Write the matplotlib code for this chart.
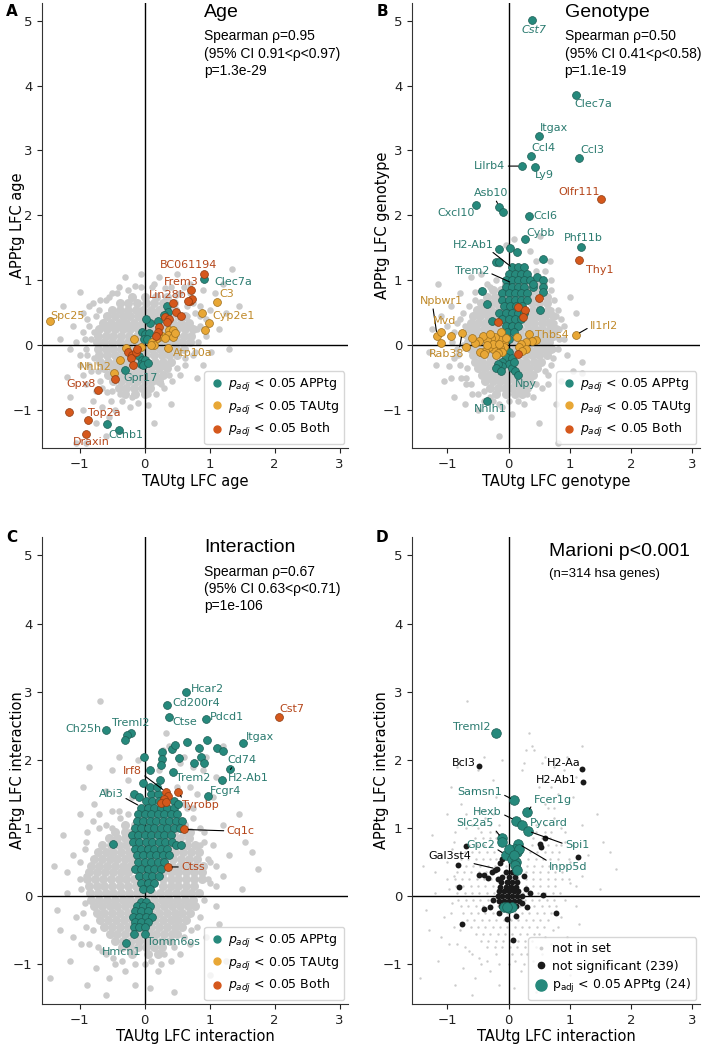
import matplotlib.pyplot as plt
from matplotlib.lines import Line2D

# colours
teal = '#26897c'
gold = '#e8a735'
red = '#d5581c'
teal_txt = '#2b7b70'
gold_txt = '#c08a2a'
red_txt = '#b5461a'
grey = '#cbcbcb'

# ---------------- panel A (age) ----------------
grey_a_rows = [
    (0.75, [-0.2, 0.0, 0.18, 0.35]),
    (0.65, [-0.38, -0.25, -0.12, 0.02, 0.15, 0.28, 0.45]),
    (0.55, [-0.5, -0.38, -0.26, -0.14, -0.02, 0.1, 0.22, 0.34, 0.46]),
    (0.45, [-0.58, -0.46, -0.34, -0.22, -0.1, 0.02, 0.14, 0.26, 0.38, 0.52, 0.62]),
    (0.35, [-0.64, -0.52, -0.4, -0.28, -0.16, -0.04, 0.08, 0.2, 0.32, 0.44, 0.56, 0.68]),
    (0.25, [-0.7, -0.58, -0.46, -0.34, -0.22, -0.1, 0.02, 0.14, 0.26, 0.38, 0.5, 0.62, 0.74]),
    (0.15, [-0.72, -0.6, -0.48, -0.36, -0.24, -0.12, 0.0, 0.12, 0.24, 0.36, 0.48, 0.6, 0.72]),
    (0.05, [-0.74, -0.62, -0.5, -0.38, -0.26, -0.14, -0.02, 0.1, 0.22, 0.34, 0.46, 0.58, 0.7]),
    (-0.05, [-0.72, -0.6, -0.48, -0.36, -0.24, -0.12, 0.0, 0.12, 0.24, 0.36, 0.48, 0.6]),
    (-0.15, [-0.7, -0.58, -0.46, -0.34, -0.22, -0.1, 0.02, 0.14, 0.26, 0.38, 0.5]),
    (-0.25, [-0.68, -0.56, -0.44, -0.32, -0.2, -0.08, 0.04, 0.16, 0.28, 0.4]),
    (-0.35, [-0.62, -0.5, -0.38, -0.26, -0.14, -0.02, 0.1, 0.22, 0.34]),
    (-0.45, [-0.56, -0.44, -0.32, -0.2, -0.08, 0.04, 0.16, 0.28]),
    (-0.55, [-0.48, -0.36, -0.24, -0.12, 0.0, 0.12, 0.22]),
    (-0.65, [-0.4, -0.28, -0.16, -0.04, 0.08]),
    (-0.75, [-0.3, -0.15, 0.0]),
]
grey_a_fringe = [
    (-1.3, 0.1), (-1.2, -0.48), (-1.15, -0.05), (-1.1, 0.3), (-1.0, 0.82), (-1.0, -0.3),
    (-0.95, 0.5), (-0.92, 0.1), (-0.9, -0.6), (-0.88, -0.15), (-0.85, 0.3), (-0.82, -0.4),
    (-0.8, 0.65), (-0.8, -0.85), (-0.7, 0.55), (-0.68, -0.55), (-0.65, -0.95), (-0.6, 0.7),
    (-0.58, -0.72), (-0.52, -0.85), (-0.5, 0.8), (-0.45, -1.0), (-0.4, 0.9), (-0.35, -0.85),
    (-0.3, 1.05), (-0.22, -0.95), (-0.15, 0.92), (-0.1, -0.88), (-0.05, 1.1), (0.05, -0.92),
    (0.12, 0.9), (0.18, -0.75), (0.22, 1.05), (0.3, -0.65), (0.32, 0.88), (0.42, -0.55),
    (0.48, 0.78), (0.55, -0.45), (0.6, 0.9), (0.62, -0.3), (0.7, 0.8), (0.75, -0.15),
    (0.78, 0.5), (0.82, 0.05), (0.85, 0.3), (0.9, -0.3), (0.95, 0.15), (1.0, 0.55),
    (1.02, -0.1), (1.08, 0.8), (1.15, 0.25), (1.2, 0.95), (1.25, 0.5), (1.35, 1.18),
    (1.3, -0.05), (0.5, 1.1), (-1.05, -1.5), (-0.95, -1.0), (-0.75, -1.2), (-0.6, -1.4),
    (-0.55, -1.1), (-1.15, -0.8), (0.15, -1.2), (0.4, -0.9), (0.8, -0.5), (1.45, 0.6),
    (-1.25, 0.6), (-0.9, -1.5), (0.65, 0.6), (0.85, 0.6), (-0.7, -0.05), (-0.78, 0.2),
    (-0.95, 0.2), (-0.9, -0.05), (-0.88, 0.4), (-0.85, -0.3), (-0.82, 0.1), (-0.78, -0.2),
    (-0.75, 0.45), (-0.72, -0.4), (-0.68, 0.7), (-0.65, -0.65), (-0.55, 0.75), (-0.5, -0.7),
    (-0.42, 0.8), (-0.38, -0.75), (-0.25, 0.85), (-0.2, -0.8), (-0.05, 0.9), (0.05, -0.75),
    (0.15, 0.95), (0.25, -0.6), (0.4, 0.9), (0.38, -0.45), (0.55, 0.8), (0.5, -0.35),
    (0.65, 0.45), (0.62, -0.2), (0.75, 0.65), (0.72, 0.05), (0.8, 0.25), (0.85, 0.45),
    (0.9, 0.85), (0.95, 0.4), (0.78, -0.1), (0.7, 0.95), (-0.6, 0.45), (-0.85, 0.6),
    (-1.05, 0.05), (-1.0, -0.15), (-0.95, -0.45), (-0.75, -0.7),
]
teal_a = [
    (0.91, 1.02), (0.35, 0.60), (0.36, 0.51), (0.30, 0.47), (0.21, 0.38), (0.09, 0.35),
    (0.02, 0.41), (-0.04, 0.20), (0.0, 0.18), (0.07, 0.19), (-0.01, 0.10), (0.04, 0.10),
    (-0.09, -0.17), (-0.04, -0.23), (-0.01, -0.29), (-0.06, -0.28), (0.0, -0.22),
    (-0.30, -0.38), (-0.58, -1.21), (-0.39, -1.30), (-0.03, -0.30), (0.05, -0.27),
]
gold_a = [
    (1.11, 0.67), (0.89, 0.50), (0.99, 0.35), (0.93, 0.24), (-1.46, 0.37), (0.37, 0.23),
    (0.44, 0.23), (0.36, 0.16), (0.27, 0.14), (0.22, 0.13), (0.17, 0.10), (0.12, 0.05),
    (0.15, 0.0), (0.44, 0.13), (0.31, 0.12), (-0.16, 0.10), (-0.28, -0.04), (-0.05, -0.03),
    (-0.38, -0.22), (-0.47, -0.43), (0.36, -0.04), (0.10, 0.0), (0.47, 0.19),
]
red_a = [
    (0.91, 1.10), (0.71, 0.86), (0.70, 0.69), (0.73, 0.72), (0.67, 0.68), (0.43, 0.65),
    (0.49, 0.52), (0.56, 0.46), (0.32, 0.44), (0.38, 0.41), (0.34, 0.36), (0.22, 0.29),
    (0.21, 0.21), (0.17, 0.15), (-0.25, -0.10), (-0.19, -0.15), (-0.21, -0.20),
    (-0.18, -0.30), (-0.14, -0.10), (-0.11, -0.05), (-0.45, -0.51), (-0.72, -0.68),
    (-1.16, -1.02), (-0.87, -1.15), (-0.90, -1.36),
]

# ---------------- panel B (genotype) ----------------
grey_b_rows = [
    (0.95, [-0.05, 0.35, 0.5]),
    (0.85, [-0.25, -0.12, 0.3, 0.42, 0.55]),
    (0.75, [-0.35, -0.22, -0.1, 0.35, 0.48, 0.62]),
    (0.65, [-0.45, -0.32, -0.2, -0.08, 0.38, 0.5, 0.62]),
    (0.55, [-0.52, -0.4, -0.28, -0.16, -0.04, 0.4, 0.52, 0.64]),
    (0.45, [-0.58, -0.46, -0.34, -0.22, -0.1, 0.02, 0.36, 0.48, 0.6, 0.72]),
    (0.35, [-0.62, -0.5, -0.38, -0.26, -0.14, -0.02, 0.3, 0.42, 0.54, 0.66]),
    (0.25, [-0.65, -0.53, -0.41, -0.29, -0.17, -0.05, 0.07, 0.19, 0.31, 0.43, 0.55, 0.67, 0.78]),
    (0.15, [-0.6, -0.48, -0.36, -0.24, -0.12, 0.0, 0.12, 0.24, 0.36, 0.48, 0.6, 0.72]),
    (0.05, [-0.66, -0.54, -0.42, -0.3, -0.18, -0.06, 0.06, 0.18, 0.3, 0.42, 0.54, 0.66]),
    (-0.05, [-0.62, -0.5, -0.38, -0.26, -0.14, -0.02, 0.1, 0.22, 0.34, 0.46, 0.58, 0.7]),
    (-0.15, [-0.58, -0.46, -0.34, -0.22, -0.1, 0.02, 0.14, 0.26, 0.38, 0.5, 0.62]),
    (-0.25, [-0.55, -0.43, -0.31, -0.19, -0.07, 0.05, 0.17, 0.29, 0.41, 0.53]),
    (-0.35, [-0.5, -0.38, -0.26, -0.14, -0.02, 0.1, 0.22, 0.34, 0.46]),
    (-0.45, [-0.44, -0.32, -0.2, -0.08, 0.04, 0.16, 0.28, 0.4]),
    (-0.55, [-0.38, -0.26, -0.14, -0.02, 0.1, 0.22, 0.34]),
    (-0.65, [-0.3, -0.18, -0.06, 0.06, 0.18, 0.3]),
    (-0.75, [-0.2, -0.05, 0.1, 0.22]),
]
grey_b_fringe = [
    (-1.3, -0.1), (-1.25, 0.25), (-1.18, -0.3), (-1.1, 0.45), (-1.05, -0.55), (-0.98, -0.32),
    (-0.95, 0.6), (-0.92, 0.05), (-0.9, -0.8), (-0.85, 0.35), (-0.82, -0.15), (-0.8, 0.8),
    (-0.78, -0.5), (-0.75, 0.5), (-0.72, -0.9), (-0.7, 0.15), (-0.68, -0.35), (-0.62, 1.05),
    (-0.6, -0.75), (-0.55, 0.82), (-0.5, -1.0), (-0.45, 1.1), (-0.4, -0.85), (-0.35, 0.95),
    (-0.28, -1.1), (-0.15, 1.25), (-0.1, -0.95), (-0.05, 1.55), (0.05, -1.05), (0.08, 1.63),
    (0.25, -0.9), (0.52, 1.68), (0.4, -0.8), (0.45, 1.15), (0.55, -0.65), (0.58, 0.95),
    (0.65, -0.45), (0.7, 0.85), (0.72, -0.2), (0.8, 0.55), (0.82, 0.1), (0.85, -0.55),
    (0.9, 0.3), (0.95, -0.15), (1.0, 0.75), (1.05, -0.4), (1.1, 0.5), (1.2, -0.25),
    (1.2, -0.42), (0.78, -0.9), (0.5, -1.2), (0.8, -1.5), (-0.15, -1.4), (-0.95, -0.5),
    (0.68, 1.3), (-1.15, 0.95), (0.75, 0.35), (0.72, -0.05), (-0.7, -0.6), (-0.3, -0.8),
    (-0.9, 0.2), (-0.85, -0.05), (-0.8, 0.4), (-0.8, -0.3), (-0.75, 0.0), (-0.72, 0.3),
    (-0.7, -0.5), (-0.65, 0.6), (-0.62, -0.6), (-0.55, 0.7), (-0.5, -0.75), (-0.45, 0.85),
    (-0.4, -0.7), (-0.3, 0.9), (-0.25, -0.85), (-0.2, 1.0), (-0.15, -0.9), (0.0, -0.85),
    (0.15, -0.85), (0.3, -0.75), (0.45, -0.6), (0.6, -0.4), (0.7, -0.3), (0.8, -0.05),
    (0.82, 0.25), (0.78, 0.45), (0.75, 0.7), (0.7, 1.0), (0.6, 1.15), (0.45, 1.3),
    (0.35, 1.45), (0.7, 0.55), (0.85, 0.4), (0.9, 0.1), (0.65, -0.6), (-0.9, -0.2),
    (-1.0, 0.3),
]
teal_b_rows = [
    (1.2, [0.05, 0.15, 0.25]),
    (1.1, [0.0, 0.1, 0.2, 0.3]),
    (1.0, [-0.05, 0.05, 0.15, 0.25, 0.35]),
    (0.9, [-0.05, 0.05, 0.15, 0.25, 0.4]),
    (0.8, [-0.1, 0.0, 0.1, 0.2, 0.3]),
    (0.7, [-0.1, 0.0, 0.1, 0.2, 0.3]),
    (0.6, [-0.08, 0.02, 0.12, 0.22]),
    (0.5, [-0.15, -0.05, 0.05, 0.15, 0.25]),
    (0.4, [-0.1, 0.0, 0.1, 0.2]),
    (0.3, [-0.05, 0.05, 0.15]),
    (0.2, [-0.02, 0.08]),
    (0.1, [0.0]),
]
teal_b = [
    (0.39, 5.01), (1.11, 3.85), (0.50, 3.23), (0.36, 2.92), (1.15, 2.89), (0.22, 2.76),
    (0.43, 2.75), (-0.15, 2.13), (-0.09, 2.05), (-0.54, 2.16), (0.33, 1.99), (0.26, 1.63),
    (1.19, 1.51), (-0.15, 1.49), (0.03, 1.50), (0.14, 1.44), (-0.2, 1.28), (-0.15, 1.28),
    (0.57, 1.33), (0.46, 1.06), (0.57, 1.0), (0.57, 0.9), (0.56, 0.82), (0.51, 0.54),
    (0.4, 0.95), (-0.43, 0.83), (-0.35, 0.64), (-0.27, 0.38), (0.0, -0.1), (-0.04, -0.18),
    (0.05, -0.2), (-0.1, -0.25), (0.0, -0.28), (-0.1, -0.32), (-0.18, -0.28), (-0.2, -0.35),
    (-0.12, -0.4), (0.06, -0.35), (0.1, -0.4), (0.16, -0.45), (-0.36, -0.86), (0.08, -0.25),
]
gold_b = [
    (1.10, 0.16), (0.45, 0.08), (0.33, 0.17), (0.38, 0.07), (0.28, 0.05), (0.2, 0.02),
    (0.14, 0.13), (0.17, -0.03), (0.28, -0.05), (0.22, -0.08), (-0.07, 0.05), (-0.15, 0.1),
    (-0.22, 0.13), (-0.28, 0.12), (-0.35, 0.08), (-0.42, 0.14), (-0.48, 0.06), (-0.08, -0.03),
    (-0.14, -0.04), (-0.2, -0.02), (-0.26, -0.06), (-0.32, -0.03), (-0.38, -0.08),
    (-0.46, -0.1), (-0.1, -0.1), (-0.18, -0.12), (-0.25, 0.02), (-0.3, 0.18), (-0.12, 0.2),
    (-0.2, -0.15), (-0.4, -0.14), (-0.35, 0.0), (-0.05, 0.12), (-0.15, 0.02), (-0.69, -0.03),
    (-0.76, 0.19), (-0.95, 0.15), (-1.17, 0.15), (-1.10, 0.21), (-1.10, 0.03), (-0.55, 0.03),
    (-0.6, 0.12),
]
red_b = [
    (1.51, 2.26), (1.15, 1.32), (0.50, 0.73), (0.16, 0.59), (0.26, 0.55), (0.24, 0.44),
    (-0.18, 0.36), (0.15, -0.14),
]

# ---------------- panels C and D (interaction) ----------------
grey_int_rows = [
    (1.05, [-0.3, -0.15, 0.45, 0.6]),
    (0.95, [-0.45, -0.3, -0.2, 0.45, 0.6, 0.7]),
    (0.85, [-0.55, -0.42, -0.3, -0.2, 0.4, 0.55, 0.68]),
    (0.75, [-0.65, -0.52, -0.4, -0.28, 0.38, 0.5, 0.65, 0.78]),
    (0.65, [-0.72, -0.6, -0.48, -0.36, -0.24, -0.1, 0.05, 0.2, 0.35, 0.47, 0.59, 0.71, 0.83]),
    (0.55, [-0.78, -0.66, -0.54, -0.42, -0.3, -0.2, 0.32, 0.44, 0.56, 0.68, 0.8]),
    (0.45, [-0.82, -0.7, -0.58, -0.46, -0.34, -0.22, -0.05, 0.12, 0.3, 0.42, 0.54, 0.66, 0.78, 0.9]),
    (0.35, [-0.85, -0.73, -0.61, -0.49, -0.37, -0.25, 0.28, 0.4, 0.52, 0.64, 0.76, 0.88]),
    (0.25, [-0.88, -0.76, -0.64, -0.52, -0.4, -0.28, -0.16, 0.0, 0.15, 0.28, 0.4, 0.52, 0.64, 0.76, 0.88]),
    (0.15, [-0.86, -0.74, -0.62, -0.5, -0.38, -0.26, -0.14, 0.28, 0.4, 0.52, 0.64, 0.76]),
    (0.05, [-0.84, -0.72, -0.6, -0.48, -0.36, -0.24, -0.12, 0.0, 0.12, 0.24, 0.36, 0.48, 0.6, 0.72, 0.84]),
    (-0.05, [-0.82, -0.7, -0.58, -0.46, -0.34, -0.22, -0.1, 0.02, 0.14, 0.26, 0.38, 0.5, 0.62, 0.74]),
    (-0.15, [-0.78, -0.66, -0.54, -0.42, -0.3, -0.18, -0.06, 0.06, 0.18, 0.3, 0.42, 0.54, 0.66, 0.78]),
    (-0.25, [-0.74, -0.62, -0.5, -0.38, -0.26, -0.14, -0.02, 0.1, 0.22, 0.34, 0.46, 0.58, 0.7]),
    (-0.35, [-0.68, -0.56, -0.44, -0.32, -0.2, -0.08, 0.04, 0.16, 0.28, 0.4, 0.52, 0.64]),
    (-0.45, [-0.62, -0.5, -0.38, -0.26, -0.14, -0.02, 0.1, 0.22, 0.34, 0.46, 0.58]),
    (-0.55, [-0.54, -0.42, -0.3, -0.18, -0.06, 0.06, 0.18, 0.3, 0.42, 0.5]),
    (-0.65, [-0.45, -0.33, -0.21, -0.09, 0.03, 0.15, 0.27, 0.39]),
    (-0.75, [-0.35, -0.22, -0.1, 0.02, 0.14, 0.26]),
    (-0.85, [-0.2, 0.05, 0.2]),
]
grey_int_fringe = [
    (-1.45, -1.2), (-1.4, 0.45), (-1.3, -0.5), (-1.25, 0.9), (-1.2, 0.05), (-1.15, -0.95),
    (-1.1, 0.6), (-1.05, -0.3), (-1.0, 1.2), (-1.0, 0.25), (-0.98, -0.7), (-0.95, 1.6),
    (-0.92, -0.1), (-0.9, 0.8), (-0.88, -1.3), (-0.85, 1.9), (-0.8, -0.5), (-0.78, 1.35),
    (-0.75, -1.05), (-0.7, 1.0), (-0.68, 2.86), (-0.65, -0.8), (-0.6, 1.55), (-0.55, -1.2),
    (-0.5, 1.25), (-0.45, -1.0), (-0.4, 2.05), (-0.38, 1.15), (-0.3, -1.1), (-0.25, 1.7),
    (-0.15, -1.3), (-0.1, 2.0), (0.0, -1.0), (0.08, -1.35), (0.2, -1.1), (0.22, 1.85),
    (0.33, 2.4), (0.25, -1.0), (0.38, 2.2), (0.42, 2.15), (0.4, -0.95), (0.55, 1.95),
    (0.55, -0.85), (0.65, 1.3), (0.7, -0.7), (0.75, 1.15), (0.8, -0.45), (0.9, 1.85),
    (0.92, 0.95), (0.95, -0.6), (1.0, 0.5), (1.05, 1.45), (1.1, 0.15), (1.15, -0.4),
    (1.2, 1.05), (1.25, -0.95), (1.3, 0.6), (1.45, 1.2), (1.5, 0.1), (1.55, 0.8),
    (1.65, 0.65), (1.75, 0.4), (1.2, 2.2), (0.95, 2.05), (-1.35, -0.2), (1.0, -1.15),
    (0.45, -1.4), (-0.6, -1.45), (0.25, 1.95), (0.6, 2.05), (0.28, 2.15), (0.75, 1.9),
    (0.5, 1.6), (-0.5, 1.85), (1.1, 1.75), (0.85, 0.75), (-0.9, 0.3), (1.0, 0.2),
    (-1.0, 0.5), (-0.98, 0.1), (-0.95, -0.25), (-0.92, 0.7), (-0.9, -0.45), (-0.88, 0.95),
    (-0.85, -0.7), (-0.8, 1.1), (-0.72, -0.75), (-0.7, 1.2), (-0.6, -0.85), (-0.6, 1.05),
    (-0.5, 1.0), (-0.48, -0.9), (-0.4, 1.25), (-0.35, -0.95), (-0.25, 1.2), (-0.2, 1.45),
    (-0.15, -1.0), (0.1, -0.95), (0.3, -0.85), (0.45, -0.75), (0.6, -0.6), (0.72, -0.5),
    (0.85, -0.3), (0.92, -0.05), (0.98, 0.25), (0.98, 0.55), (0.92, 0.8), (0.85, 1.0),
    (0.75, 1.3), (0.6, 1.35), (0.7, 1.6), (1.05, 0.75), (1.1, 0.45), (0.8, 1.5),
    (-1.1, -0.6), (-1.2, 0.35), (1.2, 0.3), (1.1, -0.15),
]
teal_c_rows = [
    (1.5, [0.1, 0.2]),
    (1.4, [0.02, 0.12, 0.22, 0.45]),
    (1.3, [-0.05, 0.05, 0.15, 0.25, 0.35, 0.45]),
    (1.2, [-0.1, 0.0, 0.1, 0.2, 0.3, 0.4, 0.5]),
    (1.1, [-0.12, -0.02, 0.08, 0.18, 0.28, 0.38, 0.48, 0.58]),
    (1.0, [-0.15, -0.05, 0.05, 0.15, 0.25, 0.35, 0.45, 0.55]),
    (0.9, [-0.2, -0.1, 0.0, 0.1, 0.2, 0.3, 0.4]),
    (0.8, [-0.18, -0.08, 0.02, 0.12, 0.22, 0.32, 0.42]),
    (0.7, [-0.15, -0.05, 0.05, 0.15, 0.25, 0.35]),
    (0.6, [-0.12, -0.02, 0.08, 0.18, 0.28, 0.38]),
    (0.5, [-0.1, 0.0, 0.1, 0.2, 0.3]),
    (0.4, [-0.15, -0.05, 0.05, 0.15, 0.25]),
    (0.3, [-0.08, 0.02, 0.12, 0.22]),
    (0.2, [-0.05, 0.05, 0.15]),
    (0.1, [-0.02, 0.08]),
]
teal_c = [
    (0.63, 3.0), (0.34, 2.80), (0.37, 2.63), (0.94, 2.60), (-0.60, 2.44), (-0.21, 2.40),
    (-0.27, 2.37), (-0.30, 2.29), (1.51, 2.25), (0.65, 2.26), (0.96, 2.29), (1.12, 2.17),
    (1.20, 2.13), (0.83, 2.17), (0.42, 2.16), (0.47, 2.22), (0.26, 2.12), (-0.01, 2.04),
    (0.26, 2.01), (0.53, 2.03), (0.87, 2.05), (0.76, 1.95), (0.92, 1.95), (0.25, 1.93),
    (0.08, 1.85), (0.43, 1.83), (0.23, 1.71), (1.32, 1.86), (1.19, 1.71), (0.97, 1.47),
    (-0.17, 1.50), (-0.09, 1.46), (-0.03, 1.66), (0.09, 1.60), (0.19, 1.61), (-0.48, 0.77),
    (0.48, 0.75), (0.56, 0.75), (0.51, 1.36),
    (-0.05, -0.08), (0.02, -0.08), (-0.12, -0.15), (-0.02, -0.15), (0.08, -0.15),
    (-0.15, -0.22), (-0.05, -0.22), (0.05, -0.22), (-0.18, -0.3), (-0.08, -0.3), (0.02, -0.3),
    (0.12, -0.3), (-0.15, -0.38), (-0.05, -0.38), (0.05, -0.38), (-0.17, -0.45),
    (-0.08, -0.45), (0.0, -0.45), (-0.17, -0.55), (0.0, -0.55), (-0.29, -0.69),
]
gold_c = []
red_c = [
    (0.33, 1.53), (0.36, 1.47), (0.30, 1.42), (0.25, 1.37), (0.33, 1.39), (0.52, 1.53),
    (0.61, 0.98), (0.36, 0.43), (2.07, 2.63),
]

black_d_rows = [
    (0.35, [-0.05, 0.05]),
    (0.28, [-0.1, 0.0, 0.1]),
    (0.21, [-0.12, -0.03, 0.06, 0.14]),
    (0.14, [-0.14, -0.05, 0.04, 0.12]),
    (0.07, [-0.16, -0.08, 0.0, 0.08, 0.16]),
    (0.0, [-0.18, -0.1, -0.02, 0.06, 0.14, 0.22]),
    (-0.07, [-0.15, -0.07, 0.01, 0.09, 0.17]),
    (-0.14, [-0.12, -0.04, 0.04, 0.12]),
]
black_d = [
    (-0.48, 1.91), (1.20, 1.86), (1.21, 1.67), (-0.70, 0.74), (-0.82, 0.46), (-0.81, 0.14),
    (-0.76, -0.40), (0.59, 0.86), (0.51, 0.77), (0.53, 0.72), (1.13, 0.58), (0.57, 0.02),
    (0.78, -0.25), (0.07, -0.64), (-0.49, 0.31), (-0.41, 0.31), (-0.33, 0.27), (-0.27, 0.36),
    (-0.22, 0.39), (-0.19, 0.40), (-0.18, 0.26), (-0.14, 0.49), (-0.30, -0.16), (-0.41, -0.18),
    (-0.15, -0.25), (-0.02, -0.33), (0.12, -0.29), (0.3, -0.16), (0.22, -0.1), (-0.25, -0.05),
    (0.35, 0.05), (0.28, 0.1), (-0.1, 0.55), (0.25, 0.3),
]
teal_d = [
    (-0.20, 2.39), (0.09, 1.41), (0.30, 1.23), (0.12, 1.11), (0.22, 1.05), (0.31, 0.96),
    (-0.11, 0.85), (-0.10, 0.80), (0.16, 0.77), (0.10, 0.69), (0.03, 0.65), (-0.05, 0.61),
    (0.14, 0.65), (0.05, 0.55), (0.12, 0.51), (0.11, 0.46), (0.14, 0.38), (0.0, 0.70),
    (-0.08, -0.16), (0.0, -0.17), (0.05, -0.16), (-0.03, -0.16), (0.17, 0.70), (0.08, 0.60),
]


def unpack(rows):
    return [(x, y) for y, xs in rows for x in xs]


def scat(ax, pts, **kw):
    if pts:
        ax.scatter([p[0] for p in pts], [p[1] for p in pts], **kw)


def base(ax, xlabel, ylabel, ylab_x):
    ax.set_xlim(-1.58, 3.13)
    ax.set_ylim(-1.58, 5.27)
    ax.set_xticks([-1, 0, 1, 2, 3])
    ax.set_yticks([-1, 0, 1, 2, 3, 4, 5])
    ax.axhline(0, color='k', lw=1, zorder=2)
    ax.axvline(0, color='k', lw=1, zorder=2)
    for s in ['top', 'right']:
        ax.spines[s].set_visible(False)
    for s in ['left', 'bottom']:
        ax.spines[s].set_color('#333333')
    ax.tick_params(labelsize=9.5, colors='#222222')
    ax.set_xlabel(xlabel, fontsize=10.5, labelpad=2)
    ax.set_ylabel(ylabel, fontsize=10.5)
    ax.yaxis.set_label_coords(ylab_x, 0.5)


def grey_cloud(ax, rows, fringe):
    # dense core drawn a bit larger so it reads as a solid cloud
    scat(ax, unpack(rows), s=42, color=grey, lw=0, zorder=1)
    scat(ax, fringe, s=22, color=grey, lw=0, zorder=1)


def heading(ax, title, sub, ysub=0.941):
    ax.text(0.53, 0.978, title, transform=ax.transAxes, fontsize=14,
            family='Liberation Sans', va='center', ha='left')
    ax.text(0.53, ysub, sub, transform=ax.transAxes, fontsize=10,
            family='Liberation Sans', va='top', ha='left', linespacing=1.3)


def label(ax, txt, pos, col, ha='left', point=None, relpos=(0.5, 0.5), style='normal'):
    if point is None:
        ax.text(pos[0], pos[1], txt, color=col, fontsize=8, ha=ha, va='center',
                style=style, zorder=5)
    else:
        ax.annotate(txt, xy=point, xytext=pos, color=col, fontsize=8, ha=ha,
                    va='center', zorder=5,
                    arrowprops=dict(arrowstyle='-', color='k', lw=0.8,
                                    shrinkA=0, shrinkB=3, relpos=relpos))


def std_legend(ax):
    h = [Line2D([], [], marker='o', ls='', color=c, markersize=5)
         for c in (teal, gold, red)]
    ax.legend(h, [r'$p_{adj}$ < 0.05 APPtg', r'$p_{adj}$ < 0.05 TAUtg',
                  r'$p_{adj}$ < 0.05 Both'],
              loc='lower right', fontsize=9, handletextpad=0.3,
              borderaxespad=0.3, handlelength=1.2, labelspacing=0.45)


def coloured(ax, teal_pts, gold_pts, red_pts):
    scat(ax, teal_pts, s=32, color=teal, edgecolor='#1b5c53', lw=0.5, zorder=3)
    scat(ax, gold_pts, s=32, color=gold, edgecolor='#9c6e1c', lw=0.5, zorder=3)
    scat(ax, red_pts, s=32, color=red, edgecolor='#8c3a10', lw=0.5, zorder=4)


fig = plt.figure(figsize=(7.09, 10.48), dpi=100)
axA = fig.add_axes([0.0592, 0.5725, 0.4316, 0.4246])
axB = fig.add_axes([0.5811, 0.5725, 0.4062, 0.4246])
axC = fig.add_axes([0.0592, 0.042, 0.4316, 0.4456])
axD = fig.add_axes([0.5811, 0.042, 0.4062, 0.4456])

# ---- A ----
base(axA, 'TAUtg LFC age', 'APPtg LFC age', -0.056)
grey_cloud(axA, grey_a_rows, grey_a_fringe)
coloured(axA, teal_a, gold_a, red_a)
heading(axA, 'Age', 'Spearman ρ=0.95\n(95% CI 0.91<ρ<0.97)\np=1.3e-29')
label(axA, 'BC061194', (0.24, 1.23), red_txt)
label(axA, 'Frem3', (0.30, 0.97), red_txt)
label(axA, 'Clec7a', (1.07, 0.97), teal_txt)
label(axA, 'Lin28b', (0.06, 0.77), red_txt)
label(axA, 'C3', (1.15, 0.79), gold_txt)
label(axA, 'Spc25', (-1.45, 0.46), gold_txt)
label(axA, 'Cyp2e1', (1.04, 0.45), gold_txt)
label(axA, 'Atp10a', (0.43, -0.12), gold_txt)
label(axA, 'Nhlh2', (-0.50, -0.33), gold_txt, ha='right')
label(axA, 'Gpr17', (-0.33, -0.50), teal_txt)
label(axA, 'Gpx8', (-0.75, -0.59), red_txt, ha='right')
label(axA, 'Top2a', (-0.87, -1.04), red_txt)
label(axA, 'Ccnb1', (-0.56, -1.38), teal_txt)
label(axA, 'Draxin', (-1.11, -1.49), red_txt)
std_legend(axA)

# ---- B ----
base(axB, 'TAUtg LFC genotype', 'APPtg LFC genotype', -0.076)
grey_cloud(axB, grey_b_rows, grey_b_fringe)
coloured(axB, unpack(teal_b_rows) + teal_b, gold_b, red_b)
heading(axB, 'Genotype', 'Spearman ρ=0.50\n(95% CI 0.41<ρ<0.58)\np=1.1e-19')
label(axB, 'Cst7', (0.42, 4.86), teal_txt, ha='center', style='italic')
label(axB, 'Clec7a', (1.38, 3.72), teal_txt, ha='center')
label(axB, 'Itgax', (0.51, 3.34), teal_txt)
label(axB, 'Ccl4', (0.37, 3.04), teal_txt)
label(axB, 'Ccl3', (1.17, 3.0), teal_txt)
label(axB, 'Lilrb4', (-0.05, 2.76), teal_txt, ha='right', point=(0.22, 2.76), relpos=(1, 0.5))
label(axB, 'Ly9', (0.43, 2.63), teal_txt)
label(axB, 'Olfr111', (1.49, 2.36), red_txt, ha='right')
label(axB, 'Asb10', (-0.28, 2.34), teal_txt, ha='center', point=(-0.15, 2.13), relpos=(0.6, 0))
label(axB, 'Cxcl10', (-0.55, 2.04), teal_txt, ha='right')
label(axB, 'Ccl6', (0.41, 1.99), teal_txt)
label(axB, 'Cybb', (0.29, 1.73), teal_txt)
label(axB, 'Phf11b', (1.22, 1.65), teal_txt, ha='center')
label(axB, 'H2-Ab1', (-0.58, 1.55), teal_txt, ha='center', point=(0.08, 1.18), relpos=(0.9, 0))
label(axB, 'Thy1', (1.27, 1.16), red_txt)
label(axB, 'Trem2', (-0.6, 1.15), teal_txt, ha='center', point=(0.08, 0.95), relpos=(1, 0.3))
label(axB, 'Npbwr1', (-1.10, 0.68), gold_txt, ha='center', point=(-1.17, 0.15), relpos=(0.3, 0))
label(axB, 'Mvd', (-1.04, 0.37), gold_txt, ha='center')
label(axB, 'Rab38', (-1.01, -0.14), gold_txt, ha='center', point=(-0.76, 0.19), relpos=(0.85, 1))
label(axB, 'Thbs4', (0.43, 0.16), gold_txt)
label(axB, 'Il1rl2', (1.33, 0.30), gold_txt, point=(1.10, 0.16), relpos=(0, 0.4))
label(axB, 'Npy', (0.28, -0.59), teal_txt, ha='center')
label(axB, 'Nhlh1', (-0.3, -0.98), teal_txt, ha='center')
std_legend(axB)

# ---- C ----
base(axC, 'TAUtg LFC interaction', 'APPtg LFC interaction', -0.056)
grey_cloud(axC, grey_int_rows, grey_int_fringe)
coloured(axC, unpack(teal_c_rows) + teal_c, gold_c, red_c)
heading(axC, 'Interaction', 'Spearman ρ=0.67\n(95% CI 0.63<ρ<0.71)\np=1e-106')
label(axC, 'Hcar2', (0.71, 3.04), teal_txt)
label(axC, 'Cd200r4', (0.43, 2.83), teal_txt)
label(axC, 'Ctse', (0.43, 2.55), teal_txt)
label(axC, 'Pdcd1', (1.0, 2.63), teal_txt)
label(axC, 'Ch25h', (-0.66, 2.45), teal_txt, ha='right')
label(axC, 'Treml2', (-0.22, 2.54), teal_txt, ha='center')
label(axC, 'Cst7', (2.08, 2.74), red_txt)
label(axC, 'Itgax', (1.56, 2.34), teal_txt)
label(axC, 'Cd74', (1.28, 2.0), teal_txt, point=(1.32, 1.86), relpos=(0.2, 0))
label(axC, 'Irf8', (-0.04, 1.84), red_txt, ha='right', point=(0.33, 1.53), relpos=(1, 0.2))
label(axC, 'Trem2', (0.48, 1.73), teal_txt)
label(axC, 'H2-Ab1', (1.28, 1.74), teal_txt)
label(axC, 'Fcgr4', (1.01, 1.55), teal_txt)
label(axC, 'Abi3', (-0.33, 1.50), teal_txt, ha='right', point=(-0.05, 1.31), relpos=(1, 0.2))
label(axC, 'Tyrobp', (0.58, 1.34), red_txt, point=(0.52, 1.53), relpos=(0.05, 0.8))
label(axC, 'Cq1c', (1.26, 0.96), red_txt, point=(0.61, 0.98), relpos=(0, 0.5))
label(axC, 'Ctss', (0.56, 0.43), red_txt, point=(0.36, 0.43), relpos=(0, 0.5))
label(axC, 'Tomm6os', (0.04, -0.67), teal_txt)
label(axC, 'Hmcn1', (-0.35, -0.82), teal_txt, ha='center')
std_legend(axC)

# ---- D ----
base(axD, 'TAUtg LFC interaction', 'APPtg LFC interaction', -0.08)
scat(axD, unpack(grey_int_rows) + grey_int_fringe, s=3, color=grey, lw=0, zorder=1)
scat(axD, unpack(black_d_rows) + black_d, s=18, color='#1a1a1a', lw=0, zorder=3)
scat(axD, teal_d, s=48, color=teal, edgecolor='#1b5c53', lw=0.5, zorder=4)
axD.text(0.475, 0.968, 'Marioni p<0.001', transform=axD.transAxes, fontsize=14,
         family='Liberation Sans', va='center', ha='left')
axD.text(0.475, 0.921, '(n=314 hsa genes)', transform=axD.transAxes, fontsize=9.5,
         family='Liberation Sans', va='center', ha='left')
label(axD, 'Treml2', (-0.29, 2.49), teal_txt, ha='right')
label(axD, 'Bcl3', (-0.53, 1.96), 'k', ha='right')
label(axD, 'H2-Aa', (1.17, 1.96), 'k', ha='right')
label(axD, 'H2-Ab1', (1.11, 1.71), 'k', ha='right')
label(axD, 'Samsn1', (-0.11, 1.53), teal_txt, ha='right', point=(0.09, 1.41), relpos=(1, 0.3))
label(axD, 'Fcer1g', (0.41, 1.41), teal_txt, point=(0.30, 1.23), relpos=(0, 0.2))
label(axD, 'Hexb', (-0.11, 1.24), teal_txt, ha='right', point=(0.12, 1.11), relpos=(1, 0.3))
label(axD, 'Pycard', (0.35, 1.08), teal_txt)
label(axD, 'Slc2a5', (-0.24, 1.07), teal_txt, ha='right', point=(-0.11, 0.85), relpos=(1, 0))
label(axD, 'Spi1', (0.92, 0.75), teal_txt, point=(0.31, 0.96), relpos=(0, 0.6))
label(axD, 'Gpc2', (-0.22, 0.75), teal_txt, ha='right', point=(-0.05, 0.61), relpos=(1, 0.2))
label(axD, 'Inpp5d', (0.66, 0.43), teal_txt, point=(0.16, 0.77), relpos=(0.05, 0.9))
label(axD, 'Gal3st4', (-0.61, 0.59), 'k', ha='right', point=(-0.19, 0.40), relpos=(0.8, 0))
hd = [Line2D([], [], marker='o', ls='', color=grey, markersize=1.8),
      Line2D([], [], marker='o', ls='', color='#1a1a1a', markersize=4.5),
      Line2D([], [], marker='o', ls='', color=teal, markersize=8)]
axD.legend(hd, ['not in set', 'not significant (239)',
                r'p$_{\mathrm{adj}}$ < 0.05 APPtg (24)'],
           loc='lower right', fontsize=9, handletextpad=0.3, borderaxespad=0.3,
           handlelength=1.2, labelspacing=0.35)

for letter, x, y in [('A', 12, 12), ('B', 382, 12), ('C', 12, 537), ('D', 382, 537)]:
    fig.text(x / 709, 1 - y / 1048, letter, fontsize=11, weight='bold',
             ha='center', va='center')

fig.savefig('out.png', dpi=100)
